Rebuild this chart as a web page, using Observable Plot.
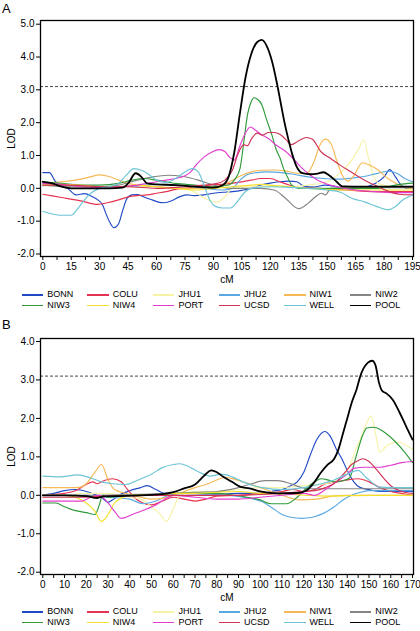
<!DOCTYPE html>
<html><head><meta charset="utf-8">
<script src="https://cdn.jsdelivr.net/npm/d3@7"></script>
<script src="https://cdn.jsdelivr.net/npm/@observablehq/plot@0.6"></script>
<style>
body{margin:0;background:#fff;font-family:"Liberation Sans",Arial,sans-serif;}
#root{position:relative;width:420px;height:631px;overflow:hidden;background:#fff;}
.plab{position:absolute;font-size:13px;line-height:1;color:#000;}
.svgwrap{position:absolute;left:0;}
.item{position:absolute;height:9px;font-size:9px;line-height:9px;color:#000;white-space:nowrap;}
.item .sw{position:absolute;left:0;top:4px;width:21.5px;height:1.4px;}
.item .tx{position:absolute;left:25.5px;top:0;}
</style></head><body><div id="root"></div>
<script>
// ---------- series names and colours ----------
const seriesNames = ["BONN","COLU","JHU1","JHU2","NIW1","NIW2","NIW3","NIW4","PORT","UCSD","WELL","POOL"];
const seriesColors = ["#2049c6","#e63352","#f6f2a6","#5aa8e2","#f6b955","#858585","#2f9a3a","#f2e02a","#e23fce","#cf3356","#6cc4d6","#000000"];
const threshold = [3.1];

// ---------- tick labels ----------
const xTicksA = [0,15,30,45,60,75,90,105,120,135,150,165,180,195];
const yTicksA = [-2,-1,0,1,2,3,4,5];
const xTicksB = [0,10,20,30,40,50,60,70,80,90,100,110,120,130,140,150,160,170];
const yTicksB = [-2,-1,0,1,2,3,4];

// ---------- panel A: [cM, LOD] ----------
const A_BONN = [[0,0.48],[3.5,0.48],[6.5,0.22],[10,0.06],[13,0.0],[17.5,-0.2],[22,-0.16],[26,-0.25],[29,-0.35],[31.5,-0.5],[33.5,-0.8],[35.5,-1.05],[37.5,-1.2],[40,-1.08],[42,-0.7],[44.5,-0.3],[47,-0.2],[50,-0.19],[54,-0.28],[58,-0.36],[61,-0.42],[64,-0.44],[68,-0.38],[72,-0.26],[76,-0.2],[80,-0.22],[85,-0.2],[90,-0.15],[95,-0.12],[100,-0.1],[105,-0.06],[110,0.0],[115,0.1],[120,0.16],[125,0.2],[130,0.22],[134,0.2],[138,0.06],[143,0.04],[149,0.1],[155,0.05],[160,0.0],[166,0.0],[171,0.05],[176,0.17],[180,0.35],[183,0.57],[186,0.35],[189,0.1],[192,0.0],[195,0.0]];
const A_COLU = [[0,-0.18],[10,-0.28],[20,-0.38],[29,-0.49],[34,-0.44],[40,-0.35],[45,-0.26],[50,-0.22],[55,-0.2],[60,-0.15],[65,-0.1],[70,-0.03],[75,0.0],[80,0.05],[88,0.1],[96,0.13],[103,0.18],[110,0.25],[115,0.3],[120,0.3],[125,0.2],[130,0.1],[135,0.03],[145,0.0],[160,-0.05],[175,-0.1],[195,-0.1]];
const A_JHU1 = [[0,0.1],[15,0.05],[30,0.02],[45,0.05],[60,0.05],[75,0.0],[81,-0.15],[87,-0.35],[92,-0.42],[96,-0.25],[100,0.0],[110,0.05],[120,0.05],[130,0.05],[140,0.1],[150,0.2],[155,0.38],[160,0.65],[164,0.95],[167,1.25],[169.2,1.48],[171.8,0.92],[174.5,0.35],[178,0.12],[185,0.05],[195,0.0]];
const A_JHU2 = [[0,0.08],[15,0.12],[30,0.05],[45,0.05],[60,0.12],[75,0.08],[85,0.0],[95,-0.05],[100,0.0],[104,0.25],[108,0.42],[113,0.48],[118,0.5],[126,0.48],[133,0.42],[140,0.35],[148,0.3],[156,0.28],[164,0.32],[170,0.37],[176,0.45],[182.5,0.52],[187,0.45],[191,0.3],[195,0.2]];
const A_NIW1 = [[0,0.15],[10,0.2],[20,0.28],[25,0.35],[30,0.41],[35,0.36],[40,0.25],[45,0.15],[50,0.1],[60,0.05],[70,0.0],[80,0.0],[90,0.05],[95,0.1],[100,0.25],[105,0.4],[110,0.5],[115,0.55],[122,0.56],[128,0.53],[134,0.46],[139,0.45],[143,0.8],[146,1.3],[149,1.5],[152,1.36],[155,0.85],[158,0.4],[161,0.22],[164,0.38],[168.5,0.78],[172,0.72],[177,0.55],[182,0.3],[186,0.16],[190,0.05],[195,0.0]];
const A_NIW2 = [[0,0.1],[15,0.05],[30,0.05],[40,0.1],[50,0.25],[58,0.35],[66,0.4],[74,0.36],[82,0.25],[90,0.1],[95,0.03],[100,0.0],[115,0.0],[122,-0.05],[128,-0.3],[135,-0.62],[140,-0.45],[144,-0.25],[147,-0.15],[149,-0.2],[152,0.0],[160,0.02],[195,0.02]];
const A_NIW3 = [[0,0.2],[10,0.15],[20,0.1],[30,0.1],[40,0.15],[47,0.25],[53,0.3],[60,0.25],[70,0.15],[80,0.1],[90,0.05],[98,0.1],[101,0.25],[104,0.6],[106,1.4],[108,2.25],[110,2.65],[111.5,2.76],[113.5,2.7],[115.5,2.55],[118,2.1],[121,1.6],[123,1.2],[125.3,0.9],[127,0.6],[129,0.35],[131,0.12],[135,0.0],[160,0.0],[175,0.0],[182,0.05],[188,0.12],[195,0.16]];
const A_NIW4 = [[0,0.1],[10,0.12],[20,0.1],[30,0.05],[40,0.05],[50,0.1],[60,0.05],[70,0.0],[80,-0.05],[90,0.0],[100,0.05],[110,0.1],[115,0.12],[120,0.1],[130,0.05],[140,0.0],[160,-0.05],[180,-0.05],[195,-0.05]];
const A_PORT = [[0,0.15],[10,0.12],[20,0.05],[30,0.03],[40,0.05],[50,0.1],[60,0.2],[65,0.25],[70,0.3],[75,0.38],[78,0.5],[81,0.72],[85,0.95],[89,1.1],[93,1.18],[96,1.12],[98.5,0.95],[101,0.86],[104,1.3],[107,1.7],[109.5,1.87],[112,1.78],[115,1.65],[119,1.52],[123,1.32],[128,1.13],[133,0.85],[137,0.6],[140,0.45],[145,0.25],[149,0.15],[155,0.05],[165,-0.05],[175,-0.1],[185,-0.13],[195,-0.13]];
const A_UCSD = [[0,0.1],[15,0.1],[30,0.05],[45,0.05],[60,0.0],[75,0.05],[85,0.1],[92,0.15],[96,0.25],[100,0.55],[103,1.05],[106,1.33],[108,1.3],[110,1.5],[113,1.68],[116,1.62],[119,1.7],[122,1.7],[125,1.65],[128,1.5],[131,1.33],[135,1.45],[139,1.55],[142,1.5],[147,1.1],[152,0.9],[157,0.7],[162,0.52],[167,0.34],[172,0.18],[177,0.05],[182,-0.08],[188,-0.18],[195,-0.2]];
const A_WELL = [[0,-0.7],[5,-0.78],[10,-0.82],[15,-0.82],[18,-0.65],[22,-0.35],[26,-0.12],[30,0.0],[35,0.05],[40,0.15],[44,0.4],[48,0.6],[52,0.55],[56,0.42],[60,0.25],[65,0.18],[70,0.3],[75,0.5],[79,0.6],[82,0.5],[85,0.1],[88,-0.35],[91,-0.55],[95,-0.6],[99,-0.6],[102,-0.45],[106,-0.15],[110,0.0],[120,0.05],[130,0.03],[140,0.0],[150,-0.05],[157,-0.12],[163,-0.3],[170,-0.42],[176,-0.55],[182,-0.65],[186,-0.55],[190,-0.35],[195,-0.2]];
const A_POOL = [[0,0.2],[5,0.15],[10,0.05],[15,0.0],[25,0.0],[35,0.0],[42,0.02],[45,0.15],[49,0.46],[52,0.35],[55,0.15],[60,0.12],[70,0.1],[80,0.05],[90,0.02],[95,0.1],[98,0.35],[101,1.1],[104,2.3],[107,3.4],[110,4.1],[113,4.45],[115.5,4.52],[118,4.35],[121,3.85],[123.5,3.2],[125.5,2.6],[127.5,2.0],[129.5,1.5],[131.5,1.05],[134,0.65],[137,0.46],[141,0.43],[145,0.45],[148,0.49],[151,0.4],[155,0.2],[158,0.06],[170,0.05],[195,0.05]];

// ---------- panel B: [cM, LOD] ----------
const B_BONN = [[0,0.0],[5,0.05],[10,0.12],[15,0.15],[20,0.1],[24,0.02],[27,-0.05],[30,-0.18],[32,-0.12],[35,0.0],[40,0.12],[45,0.2],[48,0.25],[52,0.15],[56,0.05],[60,0.05],[70,0.05],[80,0.03],[90,0.05],[100,0.05],[105,0.1],[110,0.15],[114,0.25],[117,0.35],[120,0.6],[123,1.05],[126,1.45],[129.7,1.66],[132,1.55],[135,1.2],[137.5,0.95],[140,0.65],[143,0.35],[146,0.2],[150,0.15],[155,0.1],[170,0.1]];
const B_COLU = [[0,0.0],[10,0.05],[15,0.12],[20,0.28],[23,0.35],[25,0.3],[28,0.38],[32,0.43],[36,0.35],[39,0.15],[42,-0.05],[46,-0.2],[50,-0.25],[55,-0.15],[60,-0.05],[65,-0.1],[70,-0.15],[75,-0.1],[80,-0.02],[90,0.0],[100,0.05],[110,0.1],[115,0.15],[120,0.1],[125,0.15],[130,0.3],[135,0.35],[140,0.4],[145,0.43],[150,0.35],[155,0.2],[160,0.1],[165,0.05],[170,0.0]];
const B_JHU1 = [[0,0.0],[10,0.0],[20,0.05],[30,0.05],[40,-0.05],[45,-0.1],[50,-0.3],[54,-0.5],[57,-0.68],[60,-0.35],[63,0.0],[70,0.1],[80,0.1],[90,0.15],[100,0.2],[110,0.2],[120,0.25],[130,0.3],[137,0.45],[141,0.75],[144,1.2],[147,1.6],[149.5,1.95],[151,2.07],[153,1.6],[155,1.12],[157.5,1.25],[160,1.35],[164,1.38],[167,1.3],[170,1.2]];
const B_JHU2 = [[0,0.0],[10,0.0],[20,0.0],[30,-0.05],[40,-0.1],[46,-0.22],[52,-0.15],[58,0.0],[65,0.05],[75,0.02],[85,0.0],[92,-0.05],[97,-0.1],[101,-0.17],[106,-0.35],[110,-0.5],[114,-0.57],[119,-0.6],[124,-0.57],[129,-0.47],[134,-0.3],[138,-0.12],[142,0.0],[146,0.08],[150,0.12],[160,0.12],[170,0.12]];
const B_NIW1 = [[0,0.2],[10,0.2],[16,0.2],[20,0.3],[24,0.6],[27,0.8],[30,0.4],[33,0.15],[38,0.05],[45,-0.05],[50,-0.1],[55,-0.08],[60,0.0],[65,0.1],[70,0.2],[75,0.28],[80,0.4],[84,0.47],[89,0.4],[95,0.3],[100,0.2],[105,0.1],[110,0.0],[118,-0.12],[126,-0.1],[133,-0.02],[140,0.0],[170,0.0]];
const B_NIW2 = [[0,0.0],[20,0.0],[40,0.02],[60,0.05],[70,0.08],[80,0.1],[90,0.2],[96,0.3],[102,0.38],[108,0.38],[113,0.32],[118,0.22],[122,0.17],[130,0.17],[140,0.17],[150,0.17],[170,0.17]];
const B_NIW3 = [[0,-0.2],[6,-0.2],[10,-0.3],[15,-0.4],[20,-0.45],[24,-0.5],[26,-0.25],[27.5,0.0],[30,-0.05],[35,-0.02],[40,0.0],[50,0.0],[60,0.05],[70,0.05],[80,0.05],[88,0.0],[94,-0.05],[100,-0.12],[105,-0.22],[112,-0.22],[117,-0.05],[121,0.17],[125,0.35],[128,0.43],[131,0.4],[134,0.35],[138,0.38],[141,0.45],[144,1.0],[147,1.55],[149,1.75],[152,1.77],[155,1.72],[158,1.6],[162,1.4],[166,1.15],[170,0.85]];
const B_NIW4 = [[0,0.0],[10,0.0],[15,-0.05],[20,-0.2],[24,-0.42],[27,-0.68],[30,-0.5],[33,-0.2],[37,-0.05],[40,0.0],[50,0.0],[60,0.05],[70,0.05],[80,0.08],[90,0.1],[100,0.05],[110,0.05],[120,0.0],[130,-0.02],[150,0.0],[170,0.0]];
const B_PORT = [[0,-0.15],[10,-0.15],[18,-0.15],[22,-0.05],[26,0.0],[30,-0.2],[33,-0.42],[36,-0.6],[42,-0.48],[48,-0.35],[52,-0.25],[56,-0.1],[60,0.0],[70,-0.05],[80,-0.1],[90,-0.1],[100,-0.05],[110,0.0],[120,0.05],[125,0.0],[130,0.15],[135,0.35],[140,0.55],[143,0.7],[148,0.73],[155,0.73],[160,0.78],[165,0.85],[170,0.88]];
const B_UCSD = [[0,-0.05],[15,-0.05],[30,-0.02],[45,0.0],[60,0.0],[75,0.0],[90,0.0],[100,0.02],[110,0.05],[120,0.1],[125,0.12],[130,0.2],[135,0.35],[139,0.6],[142,0.8],[145,0.9],[147.3,0.95],[150,0.88],[153,0.7],[157,0.43],[160,0.25],[164,0.12],[170,0.05]];
const B_WELL = [[0,0.5],[8,0.48],[16,0.53],[22,0.45],[27,0.35],[32,0.3],[38,0.28],[42,0.35],[46,0.45],[50,0.55],[55,0.72],[60,0.8],[63,0.82],[67,0.75],[72,0.6],[77,0.5],[82,0.55],[87,0.48],[92,0.35],[97,0.25],[101,0.2],[110,0.15],[120,0.2],[128,0.3],[134,0.4],[140,0.55],[145,0.65],[148,0.5],[151,0.35],[154,0.22],[160,0.2],[170,0.2]];
const B_POOL = [[0,0.0],[10,0.0],[20,-0.02],[25,-0.07],[28,-0.03],[35,-0.02],[45,0.0],[55,0.03],[60,0.08],[65,0.18],[70,0.28],[74,0.5],[77.5,0.65],[80,0.6],[83,0.48],[87,0.35],[91,0.22],[95,0.18],[100,0.1],[108,0.05],[117,0.06],[121,0.12],[125,0.35],[128,0.6],[131,0.8],[134,0.95],[136,1.2],[138,1.6],[140,2.0],[142,2.4],[144.3,2.76],[146,3.1],[147.3,3.28],[149.5,3.45],[151.5,3.5],[153,3.38],[154.5,2.95],[156,2.72],[158,2.65],[161,2.48],[164,2.16],[167,1.8],[170,1.45]];

const seriesA = [A_BONN,A_COLU,A_JHU1,A_JHU2,A_NIW1,A_NIW2,A_NIW3,A_NIW4,A_PORT,A_UCSD,A_WELL,A_POOL];
const seriesB = [B_BONN,B_COLU,B_JHU1,B_JHU2,B_NIW1,B_NIW2,B_NIW3,B_NIW4,B_PORT,B_UCSD,B_WELL,B_POOL];

function tidy(list){
  const rows=[];
  list.forEach((arr,i)=>arr.forEach(([c,l])=>rows.push({series:seriesNames[i],cM:c,lod:l})));
  return rows;
}

function panel(rows, xTicks, minorStep, yTicks, xMax, yDom, insets){
  const minor = d3.range(0, xMax + 0.001, minorStep);
  return Plot.plot({
    width: 420, height: 290,
    marginLeft: 40, marginRight: 7, marginTop: 20, marginBottom: 34,
    style: {fontFamily: "'Liberation Sans', Arial, sans-serif", fontSize: "10px", color: "#000", background: "transparent", overflow: "visible"},
    x: {domain: [0, xMax], insetLeft: 2.3, insetRight: 1},
    y: {domain: yDom, insetTop: insets[0], insetBottom: insets[1]},
    color: {domain: seriesNames, range: seriesColors},
    marks: [
      Plot.ruleY(threshold, {stroke: "#333", strokeWidth: 0.9, strokeDasharray: "3,2"}),
      Plot.line(rows.filter(d => d.series !== "POOL"), {x: "cM", y: "lod", z: "series", stroke: "series", strokeWidth: 1.15, curve: "monotone-x"}),
      Plot.line(rows.filter(d => d.series === "POOL"), {x: "cM", y: "lod", z: "series", stroke: "series", strokeWidth: 1.8, curve: "monotone-x"}),
      Plot.frame({stroke: "#000", strokeWidth: 1.3}),
      Plot.axisX({ticks: minor, tickFormat: d => xTicks.includes(d) ? String(d) : "", tickSize: 4, tickPadding: 2.5, label: null, fontSize: 10}),
      Plot.axisY({ticks: yTicks, tickFormat: d => d.toFixed(1), tickSize: 4, tickPadding: 2, label: null, fontSize: 10}),
      Plot.text(["cM"], {text: d => d, frameAnchor: "bottom", dy: 26, fontSize: 10}),
      Plot.text(["LOD"], {text: d => d, frameAnchor: "left", dx: -29, rotate: -90, textAnchor: "middle", fontSize: 10})
    ]
  });
}

function legend(center, gap){
  const wrap = document.createElement("div");
  seriesNames.forEach((n,i) => {
    const r = Math.floor(i/6), c = i%6;
    const it = document.createElement("div");
    it.className = "item";
    it.style.left = (21.7 + c*65.6) + "px";
    it.style.top = (center + (r - 0.5)*gap - 4.5) + "px";
    const sw = document.createElement("div");
    sw.className = "sw"; sw.style.background = seriesColors[i];
    const tx = document.createElement("div");
    tx.className = "tx"; tx.textContent = n;
    it.appendChild(sw); it.appendChild(tx);
    wrap.appendChild(it);
  });
  return wrap;
}

const root = document.getElementById("root");
function place(el, top){ const w=document.createElement("div"); w.className="svgwrap"; w.style.top=top+"px"; w.appendChild(el); root.appendChild(w); }

const la = document.createElement("div"); la.className="plab"; la.style.left="2px"; la.style.top="2px"; la.textContent="A"; root.appendChild(la);
place(panel(tidy(seriesA), xTicksA, 7.5, yTicksA, 195, [-2,5], [3.7,2.5]), 0);
root.appendChild(legend(300, 10.4));

const lb = document.createElement("div"); lb.className="plab"; lb.style.left="2px"; lb.style.top="318px"; lb.textContent="B"; root.appendChild(lb);
place(panel(tidy(seriesB), xTicksB, 5, yTicksB, 170, [-2,4], [3,2.3]), 318);
root.appendChild(legend(617.1, 10.4));
</script></body></html>
